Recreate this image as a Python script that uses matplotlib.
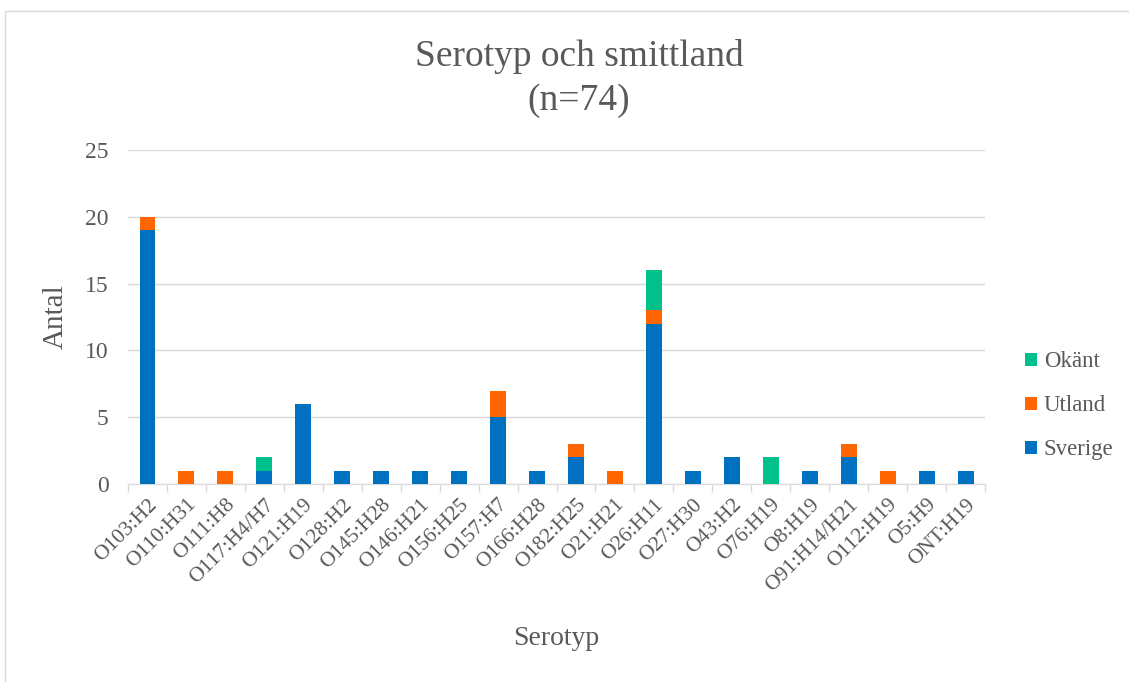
import numpy as np
import matplotlib.pyplot as plt
from matplotlib.patches import Rectangle

plt.rcParams["font.family"] = ["Liberation Serif", "DejaVu Serif"]

serotypes = ["O103:H2", "O110:H31", "O111:H8", "O117:H4/H7", "O121:H19", "O128:H2",
             "O145:H28", "O146:H21", "O156:H25", "O157:H7", "O166:H28", "O182:H25",
             "O21:H21", "O26:H11", "O27:H30", "O43:H2", "O76:H19", "O8:H19",
             "O91:H14/H21", "O112:H19", "O5:H9", "ONT:H19"]
sverige = [19, 0, 0, 1, 6, 1, 1, 1, 1, 5, 1, 2, 0, 12, 1, 2, 0, 1, 2, 0, 1, 1]
utland = [1, 1, 1, 0, 0, 0, 0, 0, 0, 2, 0, 1, 1, 1, 0, 0, 0, 0, 1, 1, 0, 0]
okant = [0, 0, 0, 1, 0, 0, 0, 0, 0, 0, 0, 0, 0, 3, 0, 0, 2, 0, 0, 0, 0, 0]

c_sve = "#0070C0"
c_utl = "#FF6600"
c_oka = "#00C08B"
txt = "#595959"

fig = plt.figure(figsize=(11.29, 6.82), dpi=100)
fig.patches.append(Rectangle((0.004, -0.01), 1.2, 0.994, transform=fig.transFigure,
                             fill=False, edgecolor="#D9D9D9", lw=1))
ax = fig.add_axes([0.1134, 0.2903, 0.7591, 0.4897])

x = np.arange(len(serotypes))
sve = np.array(sverige)
utl = np.array(utland)
oka = np.array(okant)
w = 0.41
ax.bar(x, sve, w, color=c_sve, label="Sverige", zorder=3)
ax.bar(x, utl, w, bottom=sve, color=c_utl, label="Utland", zorder=3)
ax.bar(x, oka, w, bottom=sve + utl, color=c_oka, label="Okänt", zorder=3)

ax.set_xlim(-0.5, len(serotypes) - 0.5)
ax.set_ylim(0, 25)
ax.set_yticks(range(0, 26, 5))
ax.yaxis.grid(True, color="#D9D9D9", lw=1, zorder=0)
ax.tick_params(axis="y", length=0, labelsize=17, labelcolor=txt, pad=14)

ax.set_xticks(x)
ax.set_xticklabels(serotypes, rotation=45, ha="right", rotation_mode="anchor",
                   fontsize=15.5, color=txt)
ax.tick_params(axis="x", length=0, pad=8)
ax.set_xticks(np.arange(-0.5, len(serotypes)), minor=True)
ax.tick_params(axis="x", which="minor", length=6, color="#D9D9D9", width=1)

for s in ["top", "right", "left"]:
    ax.spines[s].set_visible(False)
ax.spines["bottom"].set_color("#D9D9D9")

ax.set_ylabel("Antal", fontsize=21, color=txt, labelpad=12)
ax.set_xlabel("Serotyp", fontsize=20, color=txt, labelpad=22)
fig.text(0.513, 0.917, "Serotyp och smittland", ha="center", va="center",
         fontsize=27, color=txt)
fig.text(0.513, 0.853, "(n=74)", ha="center", va="center", fontsize=27, color=txt)

handles, labels = ax.get_legend_handles_labels()
fig.legend(handles[::-1], labels[::-1], loc="center left", bbox_to_anchor=(0.89, 0.405),
           frameon=False, fontsize=16.5, labelcolor=txt, handlelength=0.5,
           handleheight=0.5, handletextpad=0.3, labelspacing=1.0)

fig.savefig("out.png", dpi=100)
